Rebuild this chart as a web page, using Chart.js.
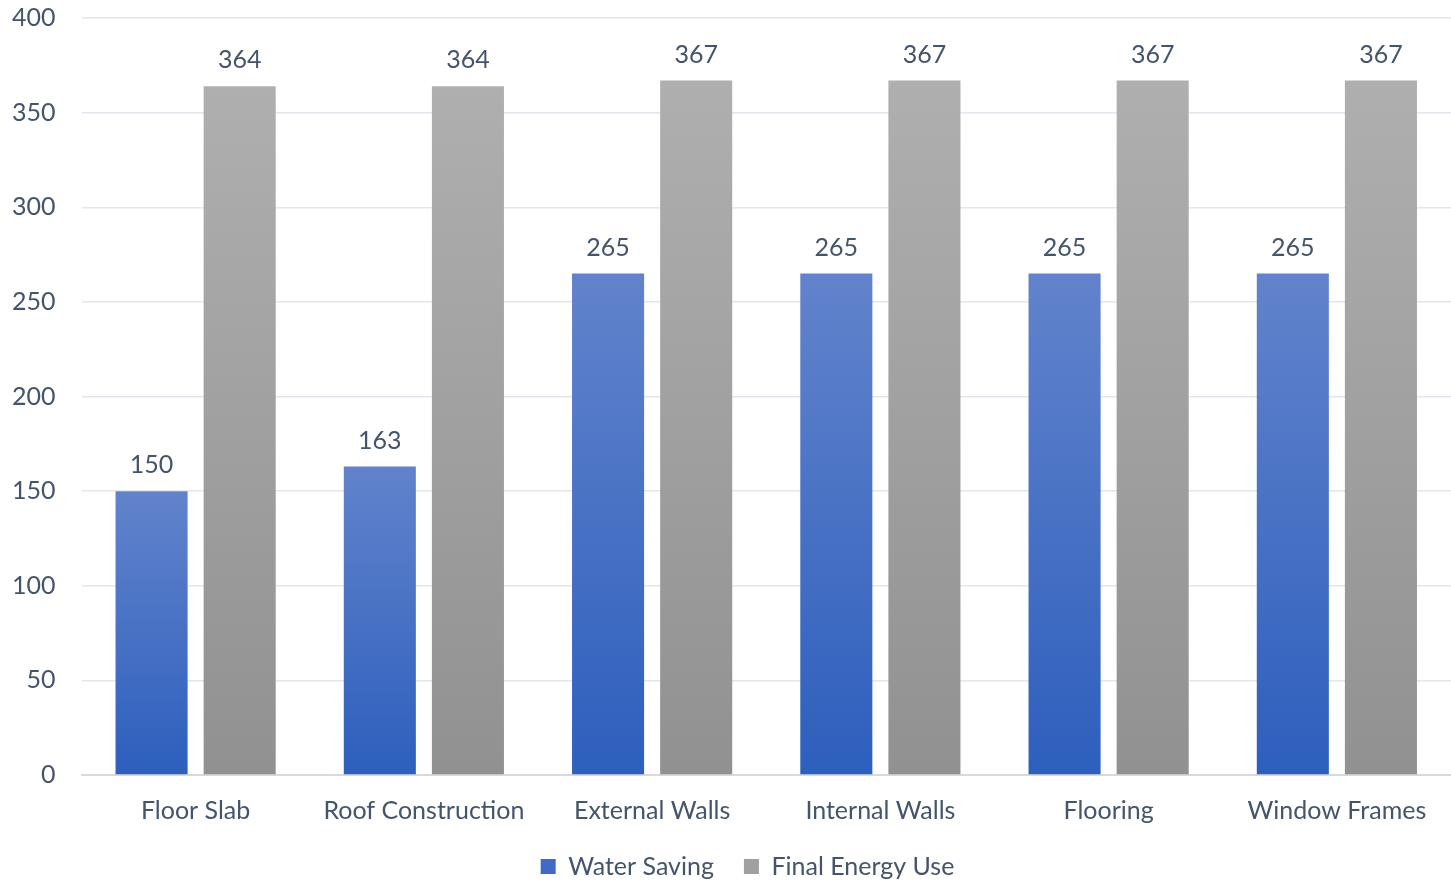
<!DOCTYPE html>
<html>
<head>
<meta charset="utf-8">
<script src="https://cdn.jsdelivr.net/npm/chart.js@4"></script>
<style>
  html, body { margin: 0; padding: 0; background: #fff; }
  #wrap { width: 1451px; height: 883px; }
</style>
</head>
<body>
<div id="wrap"><canvas id="chart"></canvas></div>
<script>
const categories = ['Floor Slab', 'Roof Construction', 'External Walls', 'Internal Walls', 'Flooring', 'Window Frames']
const waterSaving = [150, 163, 265, 265, 265, 265]
const finalEnergyUse = [364, 364, 367, 367, 367, 367]
const yTicks = [0, 50, 100, 150, 200, 250, 300, 350, 400]

const textColor = '#44546A'
const fontFamily = 'Lato, "Open Sans", sans-serif'
const fontSize = 25

// each bar gets its own vertical gradient, like the original
function barGradient(top, bottom) {
    return function(context) {
        const chart = context.chart
        const area = chart.chartArea
        if (!area || context.raw === undefined) return bottom
        const y = chart.scales.y.getPixelForValue(context.raw)
        const g = chart.ctx.createLinearGradient(0, y, 0, area.bottom)
        g.addColorStop(0, top)
        g.addColorStop(1, bottom)
        return g
    }
}

const valueLabels = {
    id: 'valueLabels',
    afterDatasetsDraw(chart) {
        const ctx = chart.ctx
        ctx.save()
        ctx.font = fontSize + 'px ' + fontFamily
        ctx.fillStyle = textColor
        ctx.textAlign = 'center'
        ctx.textBaseline = 'middle'
        chart.data.datasets.forEach((ds, i) => {
            chart.getDatasetMeta(i).data.forEach((bar, j) => {
                ctx.fillText(ds.data[j], bar.x, bar.y - 26)
            })
        })
        ctx.restore()
    }
}

// nudge the legend a bit to the right, the original sits off-centre
const legendShift = {
    id: 'legendShift',
    afterLayout(chart) {
        chart.legend.left += 29
        chart.legend.right += 29
    }
}

const ctx = document.getElementById('chart').getContext('2d')

new Chart(ctx, {
    type: 'bar',
    data: {
        labels: categories,
        datasets: [{
            label: 'Water Saving',
            data: waterSaving,
            backgroundColor: barGradient('#6283CC', '#2D5FBD'),
            legendColor: '#3F6BC6',
            barPercentage: 0.818,
            categoryPercentage: 0.772
        }, {
            label: 'Final Energy Use',
            data: finalEnergyUse,
            backgroundColor: barGradient('#AFAFAF', '#919191'),
            legendColor: '#A0A0A0',
            barPercentage: 0.818,
            categoryPercentage: 0.772
        }]
    },
    options: {
        responsive: true,
        maintainAspectRatio: false,
        animation: false,
        layout: { padding: { top: 0, right: 0, left: -14, bottom: -6 } },
        plugins: {
            tooltip: { enabled: false },
            legend: {
                position: 'bottom',
                labels: {
                    color: textColor,
                    font: { size: fontSize, family: fontFamily },
                    boxWidth: 15,
                    boxHeight: 15,
                    padding: 30,
                    generateLabels(chart) {
                        return chart.data.datasets.map((ds, i) => ({
                            text: ds.label,
                            fillStyle: ds.legendColor,
                            strokeStyle: ds.legendColor,
                            lineWidth: 0,
                            fontColor: textColor,
                            datasetIndex: i
                        }))
                    }
                }
            }
        },
        scales: {
            x: {
                afterFit(axis) {
                    axis.height = 49
                },
                grid: { display: false, drawTicks: false },
                border: { color: '#D5D9E0', width: 2 },
                ticks: {
                    color: textColor,
                    font: { size: fontSize, family: fontFamily },
                    padding: 21
                }
            },
            y: {
                min: 0,
                max: 400,
                afterBuildTicks(axis) {
                    axis.ticks = yTicks.map(v => ({ value: v }))
                },
                afterFit(axis) {
                    axis.paddingTop = 18
                    axis.paddingBottom = 0
                },
                grid: { color: '#E3E6EC', lineWidth: 1.5, drawTicks: false },
                border: { display: false },
                ticks: {
                    color: textColor,
                    font: { size: fontSize, family: fontFamily },
                    padding: 26
                }
            }
        }
    },
    plugins: [valueLabels, legendShift]
})
</script>
</body>
</html>
